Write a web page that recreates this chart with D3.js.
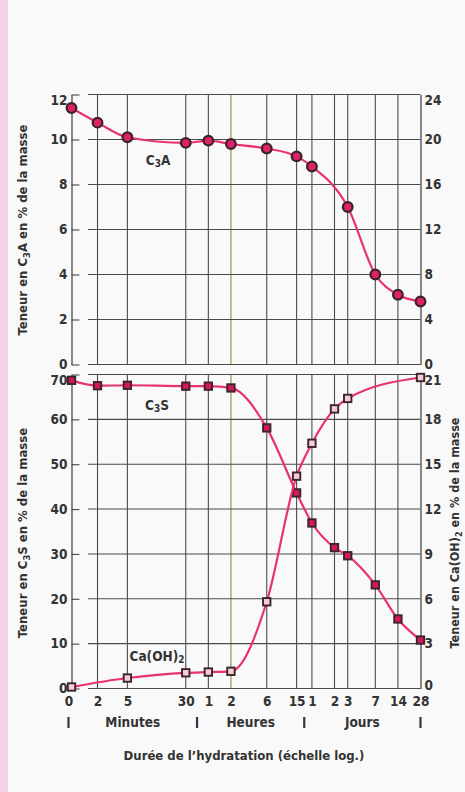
<!DOCTYPE html>
<html>
<head>
<meta charset="utf-8">
<script src="https://cdn.jsdelivr.net/npm/d3@7"></script>
<style>
  html, body { margin: 0; padding: 0; background: #f9f9f9; }
  svg { display: block; }
  text { font-family: "Liberation Sans Narrow", "DejaVu Sans Condensed", "Roboto Condensed", sans-serif; font-weight: bold; fill: #333; }
</style>
</head>
<body>
<div id="chart"></div>
<script>
// time in minutes (0 = start of hydration)
const xTicks = [0, 2, 5, 30, 60, 120, 360, 900, 1440, 2880, 4320, 10080, 20160, 40320];
const xTickLabels = ["0", "2", "5", "30", "1", "2", "6", "15", "1", "2", "3", "7", "14", "28"];
const unitBreaks = [0, 42.4, 1138, 40320];
const unitNames = ["Minutes", "Heures", "Jours"];

const c3aTime = [0, 2, 5, 30, 60, 120, 360, 900, 1440, 4320, 10080, 20160, 40320];
const c3aVal = [11.4, 10.75, 10.1, 9.85, 9.95, 9.8, 9.6, 9.25, 8.8, 7.0, 4.0, 3.1, 2.8];

const c3sTime = [0, 2, 5, 30, 60, 120, 360, 900, 1440, 2880, 4320, 10080, 20160, 40320];
const c3sVal = [68.7, 67.5, 67.6, 67.4, 67.4, 67.0, 58.1, 43.6, 36.9, 31.4, 29.6, 23.1, 15.5, 10.8];

const caohTime = [0, 5, 30, 60, 120, 360, 900, 1440, 2880, 4320, 40320];
const caohVal = [0.1, 0.7, 1.05, 1.1, 1.15, 5.8, 14.2, 16.4, 18.7, 19.4, 20.8];

const topLeftTicks = [0, 2, 4, 6, 8, 10, 12];
const topRightTicks = [0, 4, 8, 12, 16, 20, 24];
const botLeftTicks = [0, 10, 20, 30, 40, 50, 60, 70];
const botRightTicks = [0, 3, 6, 9, 12, 15, 18, 21];

const W = 465, H = 792;
const left = 71.5, right = 420.5, gridStart = 88;
const T0 = 0.9; // where "0" sits on the log axis

const x = d3.scaleLog().domain([T0, 40320]).range([left, right]);
const px = t => x(Math.max(t, T0));
const yTop = d3.scaleLinear().domain([0, 12]).range([364.5, 94.5]);
const yTopR = d3.scaleLinear().domain([0, 24]).range([364.5, 94.5]);
const yBot = d3.scaleLinear().domain([0, 70]).range([688.5, 374.5]);
const yBotR = d3.scaleLinear().domain([0, 21]).range([688.5, 374.5]);

const lineColor = "#e8336b";
const gridColor = "#4b4b4b";
const fs = 13.5;

const svg = d3.select("#chart").append("svg")
    .attr("width", W)
    .attr("height", H);

svg.append("rect").attr("width", W).attr("height", H).attr("fill", "#f9f9f9");
svg.append("rect").attr("width", 8).attr("height", H).attr("fill", "#f3d3e3");

function panel(yL, yR, leftTicks, rightTicks, isBottom) {
    const g = svg.append("g");
    const [y0, y1] = yL.range();
    // vertical grid
    g.selectAll(".vg").data(xTicks.slice(1, -1)).enter().append("line")
        .attr("x1", d => px(d)).attr("x2", d => px(d))
        .attr("y1", y1).attr("y2", y0)
        .attr("stroke", d => d === 120 ? "#8f8b3a" : gridColor)
        .attr("stroke-width", 1.1);
    // horizontal grid
    g.selectAll(".hg").data(leftTicks).enter().append("line")
        .attr("x1", gridStart).attr("x2", right)
        .attr("y1", d => yL(d)).attr("y2", d => yL(d))
        .attr("stroke", gridColor)
        .attr("stroke-width", 1.1);

    const axL = g.append("g")
        .attr("transform", "translate(" + left + ",0)")
        .call(d3.axisLeft(yL).tickValues(leftTicks).tickSize(-8).tickSizeOuter(0).tickPadding(4));
    const axR = g.append("g")
        .attr("transform", "translate(" + right + ",0)")
        .call(d3.axisRight(yR).tickValues(rightTicks).tickSize(0).tickSizeOuter(0).tickPadding(4));
    [axL, axR].forEach(ax => {
        ax.select(".domain").attr("stroke", gridColor).attr("stroke-width", 1.3);
        ax.selectAll(".tick line").attr("stroke", gridColor).attr("stroke-width", 1.1);
        ax.selectAll(".tick text").attr("font-size", fs).attr("font-family", null);
        // top labels are pushed down a little in the original
        ax.selectAll(".tick").filter((d, i, n) => i === n.length - 1).select("text").attr("dy", "0.72em");
    });
    if (isBottom) {
        // lift the right "0" so it clears the "28" below
        axR.selectAll(".tick").filter((d, i) => i === 0).select("text").attr("dy", "0.05em");
    }
    return g;
}

panel(yTop, yTopR, topLeftTicks, topRightTicks, false);
panel(yBot, yBotR, botLeftTicks, botRightTicks, true);

// x axis labels
const axB = svg.append("g")
    .attr("transform", "translate(0," + yBot.range()[0] + ")")
    .call(d3.axisBottom(x).tickValues(xTicks.map(t => Math.max(t, T0)))
        .tickFormat((d, i) => xTickLabels[i]).tickSize(0).tickPadding(8));
axB.select(".domain").remove();
axB.selectAll(".tick text").attr("font-size", fs).attr("font-family", null);
axB.selectAll(".tick").filter((d, i) => i === 0).select("text").attr("dx", -3);

// units row
const unitX = unitBreaks.map(t => px(t) + (t === 0 ? -3 : 0));
svg.selectAll(".ubar").data(unitX).enter().append("line")
    .attr("x1", d => d).attr("x2", d => d)
    .attr("y1", 717).attr("y2", 728)
    .attr("stroke", "#2b3944").attr("stroke-width", 2.2);
svg.selectAll(".uname").data(unitNames).enter().append("text")
    .attr("x", (d, i) => (unitX[i] + unitX[i + 1]) / 2)
    .attr("y", 727)
    .attr("text-anchor", "middle")
    .attr("font-size", fs)
    .text(d => d);

svg.append("text")
    .attr("x", 244).attr("y", 760)
    .attr("text-anchor", "middle")
    .attr("font-size", 13)
    .text("Durée de l’hydratation (échelle log.)");

// axis titles with subscripts
function vTitle(cx, cy, size, parts) {
    const t = svg.append("text")
        .attr("transform", "translate(" + cx + "," + cy + ") rotate(-90)")
        .attr("text-anchor", "middle")
        .attr("font-size", size);
    parts.forEach(p => {
        const s = t.append("tspan").text(p[0]);
        if (p[1]) s.attr("font-size", size * 0.72).attr("dy", 3);
        else if (p[2]) s.attr("dy", -3);
    });
}
vTitle(27, 230, 13, [["Teneur en C"], ["3", true], ["A en % de la masse", false, true]]);
vTitle(27, 533, 13, [["Teneur en C"], ["3", true], ["S en % de la masse", false, true]]);
vTitle(459, 533, 12.5, [["Teneur en Ca(OH)"], ["2", true], [" en % de la masse", false, true]]);

// series labels
function label(lx, ly, parts) {
    const t = svg.append("text").attr("x", lx).attr("y", ly).attr("text-anchor", "middle").attr("font-size", fs);
    parts.forEach(p => {
        const s = t.append("tspan").text(p[0]);
        if (p[1]) s.attr("font-size", 10).attr("dy", 2);
        else if (p[2]) s.attr("dy", -2);
    });
}
label(158, 165, [["C"], ["3", true], ["A", false, true]]);
label(157, 410, [["C"], ["3", true], ["S", false, true]]);
label(157, 661, [["Ca(OH)"], ["2", true]]);

// series
function series(times, vals, y, shape, fill) {
    const pts = times.map((t, i) => [px(t), y(vals[i])]);
    svg.append("path")
        .attr("d", d3.line().curve(d3.curveMonotoneX)(pts))
        .attr("fill", "none")
        .attr("stroke", lineColor)
        .attr("stroke-width", 2.2);
    if (shape === "circle") {
        svg.selectAll(null).data(pts).enter().append("circle")
            .attr("cx", d => d[0]).attr("cy", d => d[1]).attr("r", 4.8)
            .attr("fill", fill).attr("stroke", "#3a2528").attr("stroke-width", 2.3);
    } else {
        const s = 7.4;
        svg.selectAll(null).data(pts).enter().append("rect")
            .attr("x", d => d[0] - s / 2).attr("y", d => d[1] - s / 2)
            .attr("width", s).attr("height", s)
            .attr("fill", fill).attr("stroke", "#3a2528").attr("stroke-width", 1.9);
    }
}
series(c3aTime, c3aVal, yTop, "circle", "#e0206a");
series(c3sTime, c3sVal, yBot, "square", "#d6175d");
series(caohTime, caohVal, yBotR, "square", "#f7cadd");
</script>
</body>
</html>
